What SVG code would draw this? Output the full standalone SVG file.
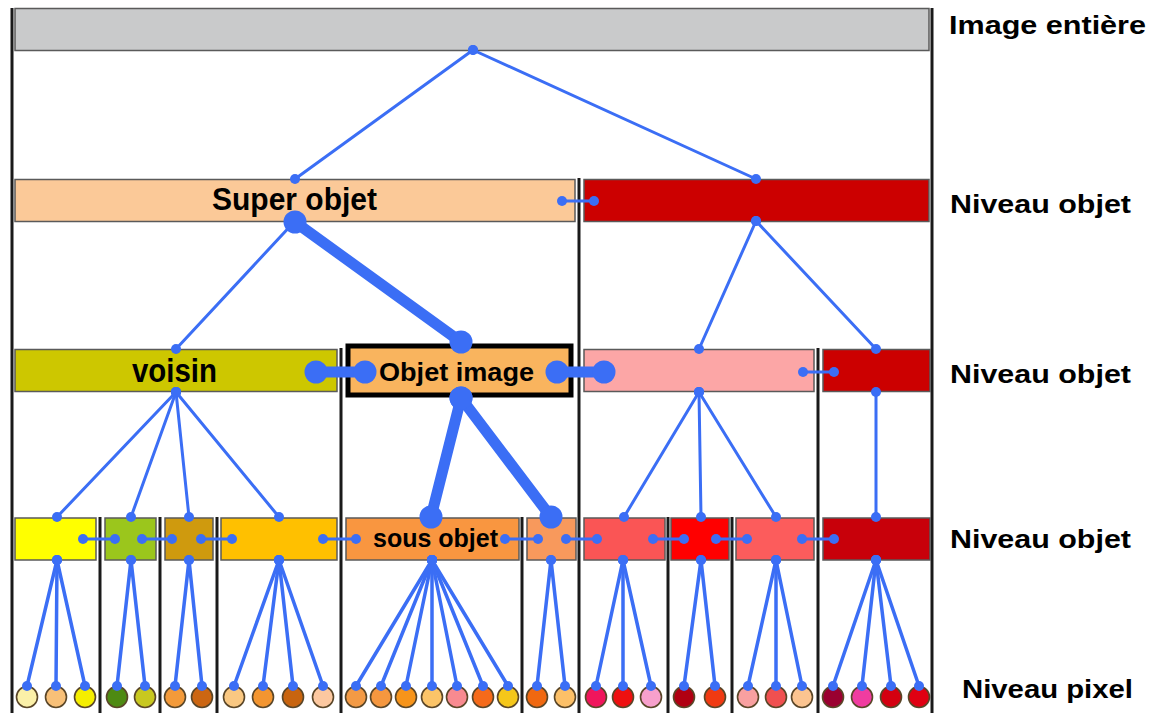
<svg xmlns="http://www.w3.org/2000/svg" width="1157" height="713" viewBox="0 0 1157 713">
<defs>
<style>
.box{stroke:#5a5a5a;stroke-width:1.5}
.div{stroke:#1a1a1a;stroke-width:3;fill:none}
.px{stroke:#5a4628;stroke-width:1.6}
.t{font-family:"Liberation Sans",Arial,sans-serif;font-weight:bold;fill:#000}
.lab{font-size:25.5px}
.c line{stroke:#3b6ef5;stroke-linecap:round}
.thin{stroke-width:3;marker-start:url(#d);marker-end:url(#d)}
.pl{stroke-width:3.5;marker-start:url(#d);marker-end:url(#d)}
.thick{stroke-width:11;marker-start:url(#D);marker-end:url(#D)}
</style>
<marker id="d" markerUnits="userSpaceOnUse" viewBox="0 0 12 12" markerWidth="12" markerHeight="12" refX="6" refY="6"><circle cx="6" cy="6" r="5" fill="#3b6ef5"/></marker>
<marker id="D" markerUnits="userSpaceOnUse" viewBox="0 0 26 26" markerWidth="26" markerHeight="26" refX="13" refY="13"><circle cx="13" cy="13" r="11.5" fill="#3b6ef5"/></marker>
</defs>
<rect width="1157" height="713" fill="#ffffff"/>

<!-- frame and dividers -->
<g id="dividers">
<line class="div" x1="12" y1="8" x2="12" y2="713"/>
<line class="div" x1="932" y1="8" x2="932" y2="713"/>
<line class="div" x1="579" y1="178" x2="579" y2="713"/>
<line class="div" x1="341" y1="348" x2="341" y2="713"/>
<line class="div" x1="818" y1="348" x2="818" y2="713"/>
<line class="div" x1="100" y1="517" x2="100" y2="713"/>
<line class="div" x1="160" y1="517" x2="160" y2="713"/>
<line class="div" x1="217" y1="517" x2="217" y2="713"/>
<line class="div" x1="522" y1="517" x2="522" y2="713"/>
<line class="div" x1="668" y1="517" x2="668" y2="713"/>
<line class="div" x1="732" y1="517" x2="732" y2="713"/>
</g>

<!-- level 0 -->
<g id="image-entiere"><rect class="box" x="15" y="8.5" width="914" height="42" fill="#c9cacb" stroke="#7a7a7a"/></g>

<!-- level 1 -->
<g id="super-objet"><rect class="box" x="15" y="179.5" width="560" height="42" fill="#fbc998"/><text class="t" x="212" y="210" font-size="31" textLength="165" lengthAdjust="spacingAndGlyphs">Super objet</text></g>
<g id="l1-red"><rect class="box" x="584" y="179.5" width="345" height="42" fill="#cc0000"/></g>

<!-- level 2 -->
<g id="voisin"><rect class="box" x="15" y="349.5" width="322" height="42" fill="#cdc700"/><text class="t" x="132" y="382" font-size="33" textLength="85" lengthAdjust="spacingAndGlyphs">voisin</text></g>
<g id="objet-image"><rect x="348" y="346" width="223" height="49" fill="#f9b45e" stroke="#000" stroke-width="5"/><text class="t" x="379" y="381" font-size="25" textLength="155" lengthAdjust="spacingAndGlyphs">Objet image</text></g>
<g id="l2-pink"><rect class="box" x="584" y="349.5" width="230" height="42" fill="#fca6a6"/></g>
<g id="l2-red"><rect class="box" x="823" y="349.5" width="107" height="42" fill="#cc0000"/></g>

<!-- level 3 -->
<g id="l3-1"><rect class="box" x="15" y="518" width="81" height="42" fill="#ffff00"/></g>
<g id="l3-2"><rect class="box" x="105" y="518" width="51" height="42" fill="#9bc61c"/></g>
<g id="l3-3"><rect class="box" x="165" y="518" width="48" height="42" fill="#cf9a0e"/></g>
<g id="l3-4"><rect class="box" x="221" y="518" width="116" height="42" fill="#ffc000"/></g>
<g id="sous-objet"><rect class="box" x="346" y="518" width="173" height="42" fill="#f99640"/><text class="t" x="373" y="547" font-size="25" textLength="125" lengthAdjust="spacingAndGlyphs">sous objet</text></g>
<g id="l3-6"><rect class="box" x="527" y="518" width="49" height="42" fill="#f8995c"/></g>
<g id="l3-7"><rect class="box" x="584" y="518" width="81" height="42" fill="#fa5555"/></g>
<g id="l3-8"><rect class="box" x="671" y="518" width="58" height="42" fill="#ff0000"/></g>
<g id="l3-9"><rect class="box" x="736" y="518" width="78" height="42" fill="#fc5c5c"/></g>
<g id="l3-10"><rect class="box" x="823" y="518" width="107" height="42" fill="#c8000a"/></g>

<!-- pixels -->
<g id="p1"><circle class="px" cx="27" cy="697" r="10.5" fill="#fbf0a8"/></g>
<g id="p2"><circle class="px" cx="56" cy="697" r="10.5" fill="#f8c078"/></g>
<g id="p3"><circle class="px" cx="85" cy="697" r="10.5" fill="#f5ee00"/></g>
<g id="p4"><circle class="px" cx="117" cy="697" r="10.5" fill="#4e8a12"/></g>
<g id="p5"><circle class="px" cx="145" cy="697" r="10.5" fill="#c8c820"/></g>
<g id="p6"><circle class="px" cx="175" cy="697" r="10.5" fill="#f39a3a"/></g>
<g id="p7"><circle class="px" cx="202" cy="697" r="10.5" fill="#cc6612"/></g>
<g id="p8"><circle class="px" cx="234" cy="697" r="10.5" fill="#fac882"/></g>
<g id="p9"><circle class="px" cx="263" cy="697" r="10.5" fill="#f39530"/></g>
<g id="p10"><circle class="px" cx="293" cy="697" r="10.5" fill="#c8640f"/></g>
<g id="p11"><circle class="px" cx="323" cy="697" r="10.5" fill="#fcc8a0"/></g>
<g id="p12"><circle class="px" cx="356" cy="697" r="10.5" fill="#f39a45"/></g>
<g id="p13"><circle class="px" cx="381" cy="697" r="10.5" fill="#f5973f"/></g>
<g id="p14"><circle class="px" cx="406" cy="697" r="10.5" fill="#f7941a"/></g>
<g id="p15"><circle class="px" cx="432" cy="697" r="10.5" fill="#fcc468"/></g>
<g id="p16"><circle class="px" cx="457" cy="697" r="10.5" fill="#f88a90"/></g>
<g id="p17"><circle class="px" cx="483" cy="697" r="10.5" fill="#f56a1a"/></g>
<g id="p18"><circle class="px" cx="508" cy="697" r="10.5" fill="#f5c71a"/></g>
<g id="p19"><circle class="px" cx="537" cy="697" r="10.5" fill="#f06810"/></g>
<g id="p20"><circle class="px" cx="565" cy="697" r="10.5" fill="#fcc068"/></g>
<g id="p21"><circle class="px" cx="596" cy="697" r="10.5" fill="#f0155c"/></g>
<g id="p22"><circle class="px" cx="623" cy="697" r="10.5" fill="#ee1010"/></g>
<g id="p23"><circle class="px" cx="651" cy="697" r="10.5" fill="#f7a0cc"/></g>
<g id="p24"><circle class="px" cx="684" cy="697" r="10.5" fill="#b00012"/></g>
<g id="p25"><circle class="px" cx="715" cy="697" r="10.5" fill="#f03a12"/></g>
<g id="p26"><circle class="px" cx="748" cy="697" r="10.5" fill="#f8a0a0"/></g>
<g id="p27"><circle class="px" cx="776" cy="697" r="10.5" fill="#f05050"/></g>
<g id="p28"><circle class="px" cx="802" cy="697" r="10.5" fill="#fcc490"/></g>
<g id="p29"><circle class="px" cx="833" cy="697" r="10.5" fill="#9a0030"/></g>
<g id="p30"><circle class="px" cx="862" cy="697" r="10.5" fill="#f03ca0"/></g>
<g id="p31"><circle class="px" cx="891" cy="697" r="10.5" fill="#d40010"/></g>
<g id="p32"><circle class="px" cx="919" cy="697" r="10.5" fill="#e00012"/></g>

<!-- connectors -->
<g id="connectors" class="c">
<line class="thin" x1="473" y1="50" x2="295" y2="179"/>
<line class="thin" x1="473" y1="50" x2="756" y2="179"/>
<line class="thin" x1="562" y1="201" x2="594" y2="201"/>
<line class="thin" x1="295" y1="221" x2="176" y2="349"/>
<line class="thin" x1="756" y1="221" x2="699" y2="349"/>
<line class="thin" x1="756" y1="221" x2="876" y2="349"/>
<line class="thin" x1="803" y1="372" x2="834" y2="372"/>
<line class="thin" x1="176" y1="392" x2="57" y2="517"/>
<line class="thin" x1="176" y1="392" x2="131" y2="517"/>
<line class="thin" x1="176" y1="392" x2="189" y2="517"/>
<line class="thin" x1="176" y1="392" x2="279" y2="517"/>
<line class="thin" x1="699" y1="392" x2="624" y2="517"/>
<line class="thin" x1="699" y1="392" x2="701" y2="517"/>
<line class="thin" x1="699" y1="392" x2="776" y2="517"/>
<line class="thin" x1="876" y1="392" x2="876" y2="517"/>
<line class="thin" x1="83" y1="539" x2="115" y2="539"/>
<line class="thin" x1="142" y1="539" x2="172" y2="539"/>
<line class="thin" x1="201" y1="539" x2="232" y2="539"/>
<line class="thin" x1="323" y1="539" x2="356" y2="539"/>
<line class="thin" x1="505" y1="539" x2="538" y2="539"/>
<line class="thin" x1="566" y1="539" x2="597" y2="539"/>
<line class="thin" x1="653" y1="539" x2="684" y2="539"/>
<line class="thin" x1="716" y1="539" x2="747" y2="539"/>
<line class="thin" x1="802" y1="539" x2="834" y2="539"/>
<line class="thick" x1="295" y1="222" x2="461" y2="342"/>
<line class="thick" x1="316" y1="372" x2="365" y2="372"/>
<line class="thick" x1="557" y1="372" x2="604" y2="372"/>
<line class="thick" x1="461" y1="398" x2="431" y2="517"/>
<line class="thick" x1="461" y1="398" x2="551" y2="517"/>
<line class="pl" x1="57" y1="560" x2="27" y2="686"/>
<line class="pl" x1="57" y1="560" x2="56" y2="686"/>
<line class="pl" x1="57" y1="560" x2="85" y2="686"/>
<line class="pl" x1="131" y1="560" x2="117" y2="686"/>
<line class="pl" x1="131" y1="560" x2="145" y2="686"/>
<line class="pl" x1="189" y1="560" x2="175" y2="686"/>
<line class="pl" x1="189" y1="560" x2="202" y2="686"/>
<line class="pl" x1="279" y1="560" x2="234" y2="686"/>
<line class="pl" x1="279" y1="560" x2="263" y2="686"/>
<line class="pl" x1="279" y1="560" x2="293" y2="686"/>
<line class="pl" x1="279" y1="560" x2="323" y2="686"/>
<line class="pl" x1="432" y1="560" x2="356" y2="686"/>
<line class="pl" x1="432" y1="560" x2="381" y2="686"/>
<line class="pl" x1="432" y1="560" x2="406" y2="686"/>
<line class="pl" x1="432" y1="560" x2="432" y2="686"/>
<line class="pl" x1="432" y1="560" x2="457" y2="686"/>
<line class="pl" x1="432" y1="560" x2="483" y2="686"/>
<line class="pl" x1="432" y1="560" x2="508" y2="686"/>
<line class="pl" x1="551" y1="560" x2="537" y2="686"/>
<line class="pl" x1="551" y1="560" x2="565" y2="686"/>
<line class="pl" x1="623" y1="560" x2="596" y2="686"/>
<line class="pl" x1="623" y1="560" x2="623" y2="686"/>
<line class="pl" x1="623" y1="560" x2="651" y2="686"/>
<line class="pl" x1="701" y1="560" x2="684" y2="686"/>
<line class="pl" x1="701" y1="560" x2="715" y2="686"/>
<line class="pl" x1="776" y1="560" x2="748" y2="686"/>
<line class="pl" x1="776" y1="560" x2="776" y2="686"/>
<line class="pl" x1="776" y1="560" x2="802" y2="686"/>
<line class="pl" x1="876" y1="560" x2="833" y2="686"/>
<line class="pl" x1="876" y1="560" x2="862" y2="686"/>
<line class="pl" x1="876" y1="560" x2="891" y2="686"/>
<line class="pl" x1="876" y1="560" x2="919" y2="686"/>
</g>

<!-- level labels -->
<g id="labels">
<text class="t lab" x="949" y="34" textLength="197" lengthAdjust="spacingAndGlyphs">Image entière</text>
<text class="t lab" x="950" y="213" textLength="181" lengthAdjust="spacingAndGlyphs">Niveau objet</text>
<text class="t lab" x="950" y="383" textLength="181" lengthAdjust="spacingAndGlyphs">Niveau objet</text>
<text class="t lab" x="950" y="548" textLength="181" lengthAdjust="spacingAndGlyphs">Niveau objet</text>
<text class="t lab" x="962" y="698" textLength="171" lengthAdjust="spacingAndGlyphs">Niveau pixel</text>
</g>
</svg>
